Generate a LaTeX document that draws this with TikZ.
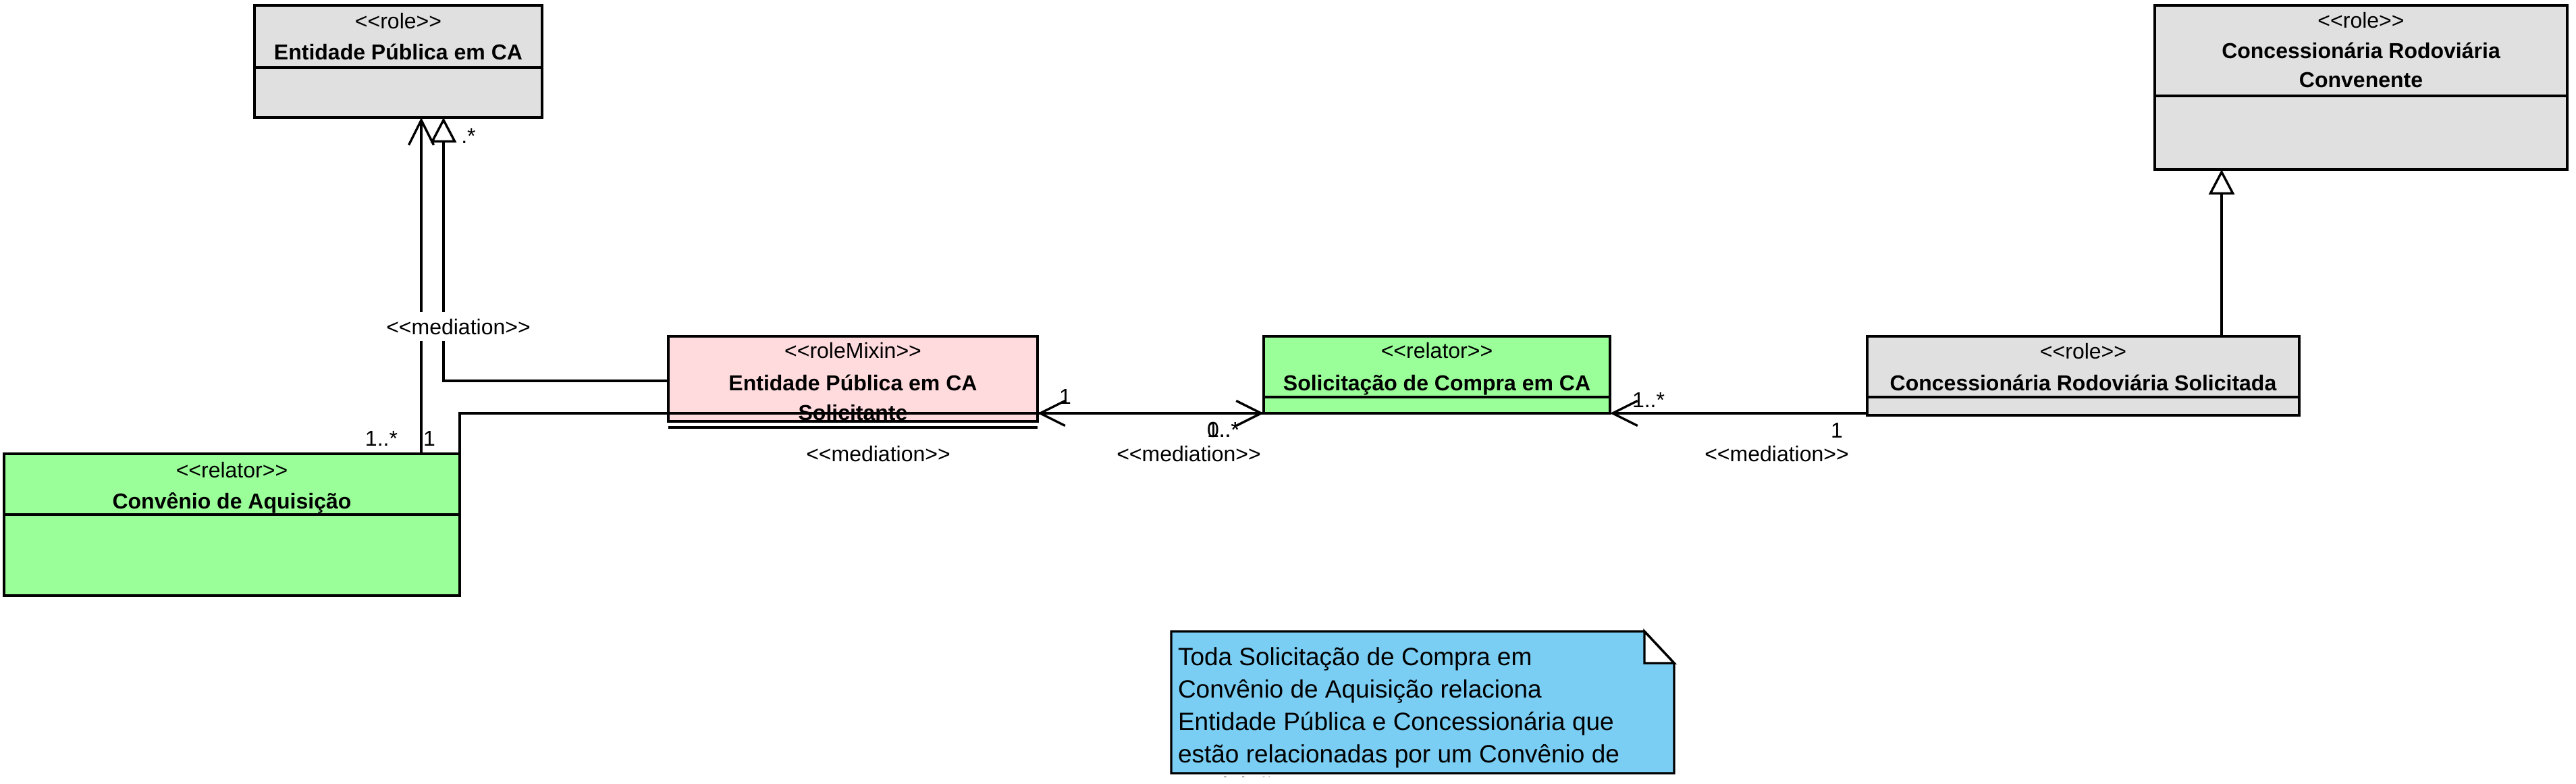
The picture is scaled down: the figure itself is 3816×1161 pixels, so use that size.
\documentclass[tikz,border=0pt]{standalone}
\usepackage{fontspec}
\setmainfont{Liberation Sans}
\usetikzlibrary{arrows.meta,calc}
\definecolor{roleGray}{HTML}{E0E0E0}
\definecolor{relGreen}{HTML}{9AFF99}
\definecolor{mixPink}{HTML}{FFDBDE}
\definecolor{noteBlue}{HTML}{7ACEF4}
\newcommand{\stereo}[1]{<\kern0pt<#1>\kern0pt>}
\begin{document}
\begin{tikzpicture}[x=0.5pt,y=-0.5pt,
  every node/.style={inner sep=0pt,outer sep=0pt},
  cls/.style={draw=black,line width=1.7pt,anchor=north west,rectangle},
  ster/.style={anchor=base,font=\fontsize{16}{19}\selectfont},
  cname/.style={anchor=base,font=\fontsize{16}{19}\selectfont\bfseries},
  lbl/.style={anchor=base,font=\fontsize{16}{19}\selectfont},
  sep/.style={line width=1.7pt},
  conn/.style={line width=1.7pt},
  medarr/.style={conn,-{Straight Barb[length=18.5pt,width=18.5pt]}},
  genarr/.style={conn,-{Triangle[open,fill=white,length=18.5pt,width=19pt]}},
  notetxt/.style={anchor=base west,font=\fontsize{18.5}{24}\selectfont}
]
\useasboundingbox (0,0) rectangle (3816,1161);

% ---- classes ----
\node[cls,fill=roleGray,minimum width=213pt,minimum height=83pt] (ep) at (377,8) {};
\node[cls,fill=roleGray,minimum width=305.5pt,minimum height=121.5pt] (conv) at (3192,8) {};
\node[cls,fill=mixPink,minimum width=273.5pt,minimum height=63pt] (mix) at (990,498) {};
\node[cls,fill=relGreen,minimum width=256.5pt,minimum height=57pt] (sol) at (1872,498) {};
\node[cls,fill=roleGray,minimum width=320pt,minimum height=58.5pt] (sold) at (2766,498) {};
\node[cls,fill=relGreen,minimum width=337.5pt,minimum height=105pt] (cva) at (6,672) {};

% ---- compartment separators ----
\draw[sep] ($(ep.north west)+(0,92)$) -- ($(ep.north east)+(0,92)$);
\draw[sep] ($(conv.north west)+(0,134)$) -- ($(conv.north east)+(0,134)$);
\draw[sep] ($(mix.south west)+(0,9)$) -- ($(mix.south east)+(0,9)$);
\draw[sep] ($(sol.north west)+(0,90)$) -- ($(sol.north east)+(0,90)$);
\draw[sep] ($(sold.north west)+(0,90)$) -- ($(sold.north east)+(0,90)$);
\draw[sep] ($(cva.north west)+(0,90)$) -- ($(cva.north east)+(0,90)$);

% ---- class texts ----
\node[ster] (epS) at ($(ep.north)+(0,35)$) {\stereo{role}};
\node[cname] (epN) at ($(ep.north)+(0,81)$) {Entidade Pública em CA};

\node[ster] (convS) at ($(conv.north)+(0,34)$) {\stereo{role}};
\node[cname] (convN1) at ($(conv.north)+(0,79)$) {Concessionária Rodoviária};
\node[cname] (convN2) at ($(conv.north)+(0,122)$) {Convenente};

\node[ster] (mixS) at ($(mix.north)+(0,32)$) {\stereo{roleMixin}};
\node[cname] (mixN1) at ($(mix.north)+(0,80)$) {Entidade Pública em CA};
\node[cname] (mixN2) at ($(mix.north)+(0,124)$) {Solicitante};

\node[ster] (solS) at ($(sol.north)+(0,32)$) {\stereo{relator}};
\node[cname] (solN) at ($(sol.north)+(0,80)$) {Solicitação de Compra em CA};

\node[ster] (soldS) at ($(sold.north)+(0,33)$) {\stereo{role}};
\node[cname] (soldN) at ($(sold.north)+(0,80)$) {Concessionária Rodoviária Solicitada};

\node[ster] (cvaS) at ($(cva.north)+(0,35)$) {\stereo{relator}};
\node[cname] (cvaN) at ($(cva.north)+(0,81)$) {Convênio de Aquisição};

% ---- connectors ----
\coordinate (cvaTop) at ($(cva.north west)+(618,0)$);
\draw[medarr] (cvaTop) -- (cvaTop |- ep.south);

\coordinate (mixL) at ($(mix.north west)+(0,66)$);
\coordinate (epG) at ($(ep.south west)+(280,0)$);
\draw[genarr] (mixL) -| (epG);

\draw[medarr] (cva.north east) |- (sol.south west);
\draw[medarr] (sol.south west) -- (sol.south west -| mix.east);
\draw[medarr] (sol.south east -| sold.west) -- (sol.south east);

\coordinate (soldTop) at ($(sold.north west)+(525,0)$);
\draw[genarr] (soldTop) -- (soldTop |- conv.south);

% ---- connector labels ----
\node[lbl,fill=white,inner ysep=5pt] (m1) at (679,495) {\stereo{mediation}};
\node[lbl] (c1) at (565,660) {1..*};
\node[lbl] (c2) at (636,660) {1};
\node[lbl] (c3) at (694,213) {.*};
\node[lbl] (c4) at (1578,598) {1};
\node[lbl] (c5) at (1812,647) {0..*};
\node[lbl] (c5b) at (1812,647) {1..*};
\node[lbl] (m2) at (1301,683) {\stereo{mediation}};
\node[lbl] (m3) at (1761,683) {\stereo{mediation}};
\node[lbl] (c6) at (2442,603) {1..*};
\node[lbl] (c7) at (2721,648) {1};
\node[lbl] (m4) at (2632,683) {\stereo{mediation}};

% ---- note ----
\node[anchor=north west,minimum width=372.5pt,minimum height=105pt] (note) at (1735,935) {};
\fill[noteBlue] (note.north west) -- ($(note.north east)+(-44,0)$) -- ($(note.north east)+(0,47)$) -- (note.south east) -- (note.south west) -- cycle;
\node[notetxt] (t1) at (1745,985) {Toda Solicitação de Compra em};
\node[notetxt] (t2) at (1745,1033) {Convênio de Aquisição relaciona};
\node[notetxt] (t3) at (1745,1081) {Entidade Pública e Concessionária que};
\node[notetxt] (t4) at (1745,1129) {estão relacionadas por um Convênio de};
\begin{scope}
\clip ($(note.north west)+(0,0)$) rectangle ($(note.south east)+(0,5)$);
\node[notetxt] (t5) at (1745,1177) {Aquisição};
\end{scope}
\draw[line width=1.7pt,line join=miter] (note.north west) -- ($(note.north east)+(-44,0)$) -- ($(note.north east)+(0,47)$) -- (note.south east) -- (note.south west) -- cycle;
\draw[line width=1.7pt,fill=white] ($(note.north east)+(-44,0)$) -- ($(note.north east)+(0,47)$) -- ($(note.north east)+(-44,47)$) -- cycle;
\end{tikzpicture}
\end{document}
